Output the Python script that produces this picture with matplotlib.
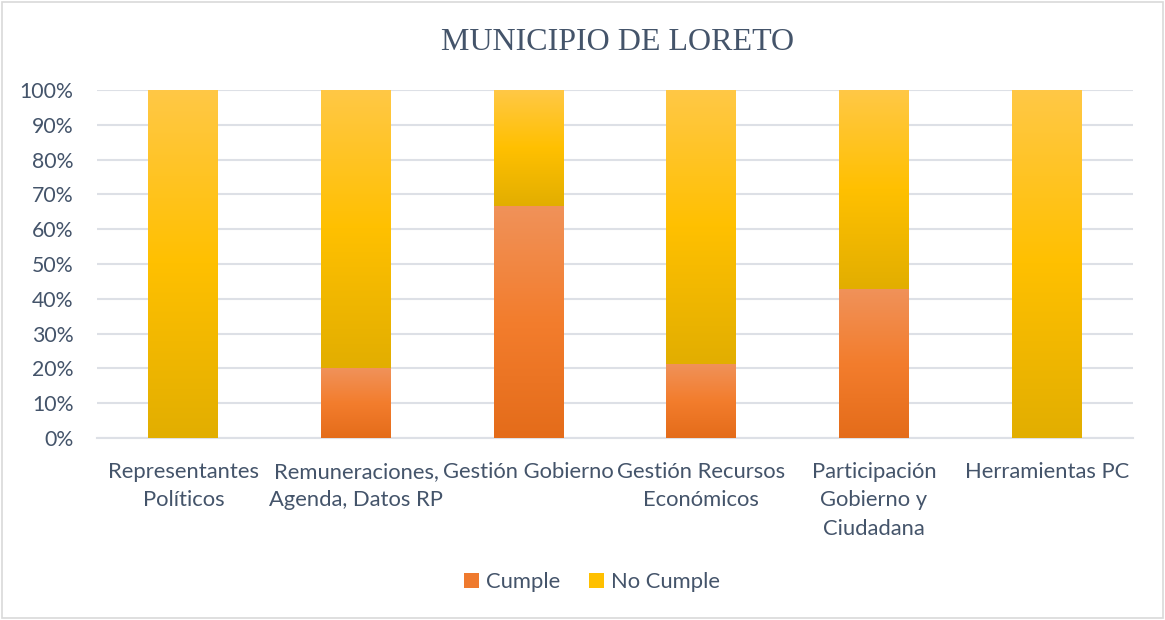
import numpy as np
import matplotlib.pyplot as plt
from matplotlib.colors import LinearSegmentedColormap
from matplotlib.patches import Rectangle, Patch

categories = ["Representantes\nPolíticos", "Remuneraciones,\nAgenda, Datos RP", "Gestión Gobierno",
              "Gestión Recursos\nEconómicos", "Participación\nGobierno y\nCiudadana", "Herramientas PC"]
cumple = np.array([0.0, 20.0, 66.7, 21.4, 42.9, 0.0])
no_cumple = 100.0 - cumple

# gradientes tipo Excel (arriba claro -> abajo oscuro)
orange_cm = LinearSegmentedColormap.from_list("org", ["#E46C1A", "#F37D2D", "#F0925A"])
yellow_cm = LinearSegmentedColormap.from_list("yel", ["#E2AE00", "#FFC000", "#FFC846"])
text_col = "#44546A"
grid_col = "#DDE0E6"

fig = plt.figure(figsize=(11.65, 6.2), dpi=100)
ax = fig.add_axes([0.0833, 0.2935, 0.8892, 0.5613])

x = np.arange(len(categories))
b1 = ax.bar(x, cumple, width=0.405, zorder=3)
b2 = ax.bar(x, no_cumple, bottom=cumple, width=0.405, zorder=3)

grad = np.linspace(0, 1, 256).reshape(-1, 1)
for bars, cm in ((b1, orange_cm), (b2, yellow_cm)):
    for p in bars:
        h = p.get_height()
        p.set_facecolor("none")
        p.set_edgecolor("none")
        if h <= 0:
            continue
        x0, y0 = p.get_x(), p.get_y()
        im = ax.imshow(grad, cmap=cm, aspect="auto", origin="lower",
                       extent=(x0, x0 + p.get_width(), y0, y0 + h), zorder=3)
        im.set_clip_path(p)

ax.set_xlim(-0.5, len(categories) - 0.5)
ax.set_ylim(0, 100)
ax.set_yticks(np.arange(0, 101, 10))
ax.set_yticklabels([f"{v}%" for v in range(0, 101, 10)])
ax.set_xticks(x)
ax.set_xticklabels(categories, linespacing=1.55)
ax.tick_params(axis="both", length=0, labelsize=15.8, labelcolor=text_col)
ax.tick_params(axis="y", labelsize=15.3, pad=17)
ax.tick_params(axis="x", pad=17)
for lbl in ax.get_xticklabels() + ax.get_yticklabels():
    lbl.set_fontfamily("Lato")
ax.yaxis.grid(True, color=grid_col, linewidth=1.5, zorder=0)
for s in ["top", "right", "left"]:
    ax.spines[s].set_visible(False)
ax.spines["bottom"].set_color(grid_col)
ax.spines["bottom"].set_linewidth(1.5)

fig.text(0.53, 0.932, "MUNICIPIO DE LORETO", ha="center", va="center",
         fontsize=23, color=text_col, family="Liberation Serif")

handles = [Patch(facecolor="#EF7A2E"), Patch(facecolor="#FFC000")]
fig.legend(handles, ["Cumple", "No Cumple"], loc="center", bbox_to_anchor=(0.508, 0.061),
           ncol=2, frameon=False, handlelength=0.7, handleheight=0.7, handletextpad=0.3,
           columnspacing=1.3, prop={"family": "Lato", "size": 15.8}, labelcolor=text_col)

fig.patches.append(Rectangle((0.002, 0.003), 0.996, 0.994, transform=fig.transFigure,
                             fill=False, edgecolor="#D9D9D9", linewidth=1.2))

fig.savefig("out.png", dpi=100)
